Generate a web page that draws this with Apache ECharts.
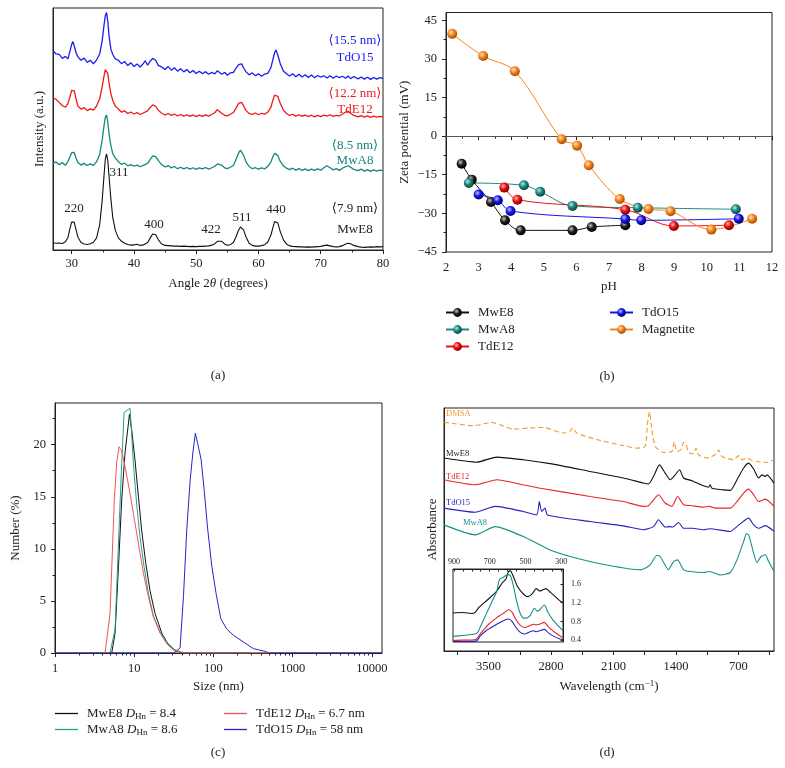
<!DOCTYPE html>
<html><head><meta charset="utf-8">
<script src="https://cdn.jsdelivr.net/npm/echarts@6.0.0/dist/echarts.min.js"></script>
<style>html,body{margin:0;padding:0;background:#fff}#c{width:785px;height:768px}</style>
</head><body><div id="c"></div><script>
const FONT = '"Liberation Serif","DejaVu Serif","Times New Roman",serif';
const INK = '#222';

// ---------- (a) XRD ----------
const xrdAngle = [27,27.5,28,28.5,29,29.4,29.7,30,30.2,30.4,30.7,31,31.5,32,32.5,33,33.5,34,34.5,34.9,35.2,35.4,35.6,35.8,36.0,36.3,36.6,37,37.5,38,38.5,39,39.5,40,40.5,41,41.5,41.8,42.2,42.6,43,43.2,43.5,43.9,44.4,45,45.5,46,46.5,47,47.5,48,48.5,49,49.5,50,50.5,51,51.5,52,52.5,53,53.4,53.7,54.1,54.6,55,55.5,56,56.4,56.8,57.1,57.3,57.6,58,58.5,59,59.5,60,60.5,61,61.5,62,62.3,62.6,62.8,63.1,63.5,64,64.5,65,65.5,66,66.5,67,67.5,68,68.5,69,69.5,70,70.5,71,71.5,72,72.5,73,73.5,74,74.4,74.8,75.3,76,76.5,77,77.5,78,78.5,79,79.5,80];
const xrdMwE8 = [3.0,2.8,2.9,2.7,3.4,5.2,8.6,11.6,12.4,11.5,8.4,5.3,3.1,2.5,2.3,2.6,3.2,5.0,10.5,20.5,31.0,37.5,39.7,37.0,30.5,21.0,13.5,8.2,5.0,3.6,2.8,2.3,2.0,2.1,2.4,1.9,2.1,2.3,3.1,4.9,6.6,6.9,6.3,4.3,2.6,1.9,1.8,1.7,1.6,1.6,1.5,1.6,1.5,1.4,1.5,1.4,1.5,1.5,1.6,1.7,2.0,2.6,3.6,4.1,3.6,2.4,2.0,2.2,3.2,5.5,8.2,9.5,9.6,8.3,5.4,2.8,1.9,1.6,1.6,1.8,2.2,3.3,6.2,9.0,11.8,12.4,11.2,7.6,4.2,2.5,1.7,1.5,1.4,1.3,1.3,1.2,1.3,1.2,1.3,1.4,1.5,1.8,2.0,1.7,1.4,1.3,1.4,1.8,2.5,2.8,2.6,1.9,1.4,1.2,1.1,1.2,1.3,1.2,1.4,1.3,1.4];
const xrdMwA8 = [35.8,36.4,35.2,36.1,35.0,36.6,38.4,40.2,41.0,40.3,38.0,36.2,35.1,35.8,34.9,35.6,35.0,36.5,39.5,45.5,51.5,54.8,55.8,53.0,48.0,43.0,39.8,38.0,36.5,35.4,35.9,34.8,35.3,34.6,35.1,34.4,35.0,34.6,35.8,37.3,38.9,39.3,38.6,37.0,35.4,34.3,34.9,33.9,34.5,33.6,34.2,33.5,34.1,33.4,34.0,33.3,33.9,33.5,34.1,33.4,34.0,34.6,35.6,35.8,35.0,33.9,33.6,34.2,35.0,37.5,40.0,41.3,41.0,39.2,36.4,34.5,33.6,34.0,33.4,33.9,33.5,34.6,36.4,38.5,40.0,40.2,39.0,36.6,34.8,33.8,33.2,33.8,33.0,33.6,32.9,33.5,32.8,33.4,32.9,33.5,33.0,34.0,34.8,34.0,33.1,33.6,32.9,33.8,34.4,34.8,34.2,33.3,32.8,33.4,32.6,33.2,32.5,33.1,32.6,33.0,32.8];
const xrdTdE12 = [63.0,62.2,61.0,59.6,59.0,60.5,63.2,66.0,66.8,65.8,62.5,59.5,58.2,58.8,57.6,58.3,57.8,59.5,62.5,67.5,72.0,74.5,75.1,73.0,69.0,64.5,61.8,59.5,58.2,57.0,57.5,56.4,57.0,56.2,56.8,56.0,56.6,56.2,57.5,58.8,60.0,60.2,59.4,57.8,56.6,55.8,56.4,55.6,56.2,55.4,56.0,55.3,55.9,55.2,55.8,55.1,55.7,55.2,55.8,55.3,56.0,56.8,58.0,57.6,56.5,55.6,55.4,56.1,56.9,58.6,60.6,61.3,61.0,59.6,57.6,56.4,56.0,56.6,55.9,56.5,56.1,57.0,59.0,61.8,64.0,64.7,63.5,60.6,57.8,56.4,55.6,56.1,55.3,55.9,55.2,55.8,55.1,55.7,55.0,55.6,55.1,55.7,55.3,55.9,55.2,55.6,55.4,56.2,57.0,57.3,56.5,55.6,55.0,55.5,54.9,55.4,54.8,55.3,54.9,55.2,55.0];
const xrdTdO15 = [82.4,81.0,80.8,79.2,80.0,79.0,82.0,85.0,86.1,84.5,81.5,79.8,78.4,79.3,77.5,78.4,76.9,78.6,81.0,86.5,93.0,96.8,98.1,94.5,88.5,83.0,80.8,79.0,78.4,77.0,77.9,76.2,77.4,75.8,76.9,75.6,77.0,78.2,76.4,78.0,79.2,79.6,78.4,76.3,75.7,74.6,75.8,74.3,75.3,73.9,74.9,73.6,74.6,73.2,74.2,72.9,73.9,72.8,73.7,72.6,73.4,72.8,74.1,73.9,72.6,73.4,72.2,73.2,73.4,75.2,76.6,77.3,76.9,75.3,73.6,72.4,73.2,72.0,72.8,71.8,72.7,73.0,75.4,78.6,81.6,82.6,80.6,77.0,74.0,72.8,71.9,72.8,71.6,72.6,71.5,72.4,71.3,72.3,71.2,72.1,71.4,72.0,71.1,72.0,71.0,71.9,71.2,71.8,71.0,71.9,70.8,71.7,70.7,71.5,70.6,71.4,70.5,71.3,70.6,71.2,70.9];
const xrdTickLabels = [30,40,50,60,70,80];
const xrdMinorTicks = [35,45,55,65,75];

// ---------- (b) Zeta potential ----------
const pHMwE8 = [2.48,2.79,3.38,3.81,4.29,5.88,6.47,7.5];
const zetaMwE8 = [-10.7,-16.9,-25.6,-32.7,-36.6,-36.6,-35.3,-34.6];
const pHMwA8 = [2.7,4.39,4.89,5.88,7.88,10.89];
const zetaMwA8 = [-18.2,-19.1,-21.6,-27.1,-27.8,-28.4];
const pHTdE12 = [3.79,4.19,7.5,8.99,10.68];
const zetaTdE12 = [-20.0,-24.7,-28.6,-34.9,-34.6];
const pHTdO15 = [3.0,3.59,3.98,7.5,7.99,10.98];
const zetaTdO15 = [-22.7,-24.9,-29.1,-32.2,-32.7,-32.1];
const pHMag = [2.19,3.14,4.11,5.55,6.02,6.38,7.33,8.21,8.89,10.14,11.39];
const zetaMag = [39.7,31.1,25.2,-1.2,-3.7,-11.3,-24.4,-28.3,-29.2,-36.3,-32.1];
const pHTicks = [2,3,4,5,6,7,8,9,10,11,12];
const pHMinor = [2.5,3.5,4.5,5.5,6.5,7.5,8.5,9.5,10.5,11.5];
const zetaTicks = [-45,-30,-15,0,15,30,45];
const zetaMinor = [-37.5,-22.5,-7.5,7.5,22.5,37.5];

// ---------- (c) DLS ----------
const dlsSizeMwE8 = [5.2,5.73,6.33,6.95,7.65,8.7,9.3,10.2,11.3,12.4,14.0,15.8,18.3,22.3,27.0,32.7,39.9,46,300];
const dlsNumMwE8  = [0,1.9,8.3,14.7,19.2,22.9,21.4,18.6,15.0,11.8,8.6,6.0,3.8,1.9,0.8,0.26,0.03,0,0];
const dlsSizeMwA8 = [4.95,5.73,6.5,6.95,7.45,8.86,9.76,10.7,11.8,13.3,15.1,17.4,21.2,25.7,31.1,37.9,46,300];
const dlsNumMwA8  = [0,2.3,12.8,18.2,23.1,23.5,18.2,14.4,11.2,8.3,5.7,3.6,2.0,1.06,0.4,0.1,0,0];
const dlsSizeTdE12 = [4.28,4.95,5.61,6.0,6.43,6.95,7.65,8.86,9.76,11.3,13.1,15.1,17.4,21.2,25.7,31.1,39.9,46,520];
const dlsNumTdE12  = [0,3.8,14.7,18.2,19.8,19.4,17.9,15.3,13.4,10.5,7.6,5.4,3.5,1.9,0.9,0.3,0.06,0,0];
const dlsSizeTdO15 = [1,31.1,34.4,37.9,41.8,46,50.8,54.9,59.1,64.5,69.8,76.2,84,95.4,108,123.8,147,179,239,318,426,518,13400];
const dlsNumTdO15  = [0,0,0.2,0.5,5.4,11.8,16.6,19.2,21.1,19.8,18.6,15.7,12.1,8.3,5.7,3.3,2.3,1.7,1.06,0.42,0.2,0,0];
const dlsDhn = {MwE8:'8.4', MwA8:'8.6', TdE12:'6.7 nm', TdO15:'58 nm'};
const sizeTicks = [1,10,100,1000,10000];
const sizeMinor = [2,3,4,5,6,7,8,9,20,30,40,50,60,70,80,90,200,300,400,500,600,700,800,900,2000,3000,4000,5000,6000,7000,8000,9000];
const numTicks = [0,5,10,15,20];
const numMinor = [2.5,7.5,12.5,17.5,22.5];

// ---------- (d) FTIR ----------
const ftirDMSA = [[4000,94.2],[3990,94.1],[3672,92.7],[3466,94.1],[3373,93.1],[3223,91.3],[3036,91.8],[2886,92.0],[2662,89.7],[2587,90.4],[2557,91.8],[2512,89.7],[2287,87.0],[1988,84.5],[1838,83.5],[1745,84.2],[1718,93.8],[1696,98.4],[1670,91.1],[1632,84.2],[1539,81.7],[1445,82.1],[1419,86.1],[1389,82.1],[1344,82.8],[1314,85.9],[1284,84.9],[1258,81.7],[1202,81.2],[1176,83.5],[1146,80.8],[1052,79.4],[958,80.8],[921,82.8],[884,80.1],[753,78.7],[697,80.4],[659,78.7],[603,79.4],[566,78.7],[491,78.0],[379,77.6],[341,78.4],[300,78.3]];
const ftirMwE8 = [[4000,79.4],[3635,77.7],[3410,79.8],[3111,78.7],[2811,77.1],[2362,73.9],[1988,71.2],[1763,69.1],[1707,68.7],[1651,71.8],[1584,76.6],[1520,73.2],[1464,70.5],[1408,72.5],[1359,74.6],[1314,71.2],[1220,70.1],[1090,68.0],[1033,67.4],[1015,68.4],[996,67.0],[865,66.3],[790,66.1],[715,70.5],[640,75.3],[584,77.3],[528,74.9],[472,71.2],[434,72.5],[397,71.8],[379,72.5],[300,69.1]];
const ftirTdE12 = [[4000,70.5],[3650,68.4],[3410,70.5],[3111,68.4],[2920,67.0],[2362,63.6],[1988,61.5],[1763,59.5],[1707,59.8],[1651,62.2],[1595,64.3],[1520,60.9],[1445,59.5],[1381,63.6],[1314,60.2],[1220,59.8],[1090,59.2],[1022,59.5],[958,58.8],[790,58.8],[715,61.5],[640,65.0],[584,66.6],[528,64.3],[472,61.5],[397,62.5],[300,59.5]];
const ftirTdO15 = [[4000,58.8],[3650,57.1],[3425,59.5],[3111,57.4],[2961,56.0],[2931,61.5],[2905,57.4],[2867,58.8],[2841,56.0],[2362,53.3],[1988,51.5],[1763,49.9],[1651,51.2],[1595,54.0],[1520,51.0],[1464,51.2],[1434,51.0],[1370,52.9],[1314,50.5],[1220,50.5],[1090,49.9],[1022,50.3],[790,49.2],[715,51.2],[584,54.7],[528,51.9],[472,50.5],[397,51.6],[300,49.2]];
const ftirMwA8 = [[4000,51.9],[3650,47.8],[3425,51.2],[3111,47.1],[2811,41.6],[2512,38.2],[2175,35.4],[1801,33.4],[1745,34.1],[1688,35.4],[1614,39.3],[1576,38.9],[1483,33.4],[1427,36.8],[1381,37.5],[1314,33.4],[1239,32.7],[1090,32.3],[1022,32.7],[902,31.3],[790,32.3],[715,37.5],[640,45.1],[610,48.2],[584,47.8],[528,40.2],[491,36.4],[446,38.9],[397,39.6],[360,36.8],[300,32.7]];
const wnTicks = [350,700,1050,1400,1750,2100,2450,2800,3150,3500,3850];
const wnLabels = [700,1400,2100,2800,3500];
// inset
const insetMwE8 = [[905,0.98],[850,0.99],[800,0.97],[780,1.0],[760,1.1],[730,1.2],[700,1.3],[660,1.45],[630,1.62],[610,1.7],[595,1.86],[585,1.88],[570,1.78],[545,1.55],[520,1.42],[500,1.35],[485,1.33],[460,1.4],[440,1.5],[420,1.45],[400,1.48],[385,1.5],[360,1.42],[330,1.32],[310,1.25],[290,1.2]];
const insetMwA8 = [[905,0.48],[850,0.5],[800,0.52],[770,0.55],[750,0.7],[720,0.95],[690,1.2],[660,1.45],[645,1.7],[625,1.74],[600,1.8],[585,1.78],[570,1.6],[550,1.25],[530,0.98],[510,0.87],[495,0.87],[470,0.95],[450,1.08],[435,1.02],[420,1.05],[395,1.15],[375,1.0],[350,0.85],[320,0.72],[290,0.6]];
const insetTdE12 = [[905,0.39],[850,0.4],[800,0.4],[775,0.42],[750,0.55],[720,0.68],[700,0.76],[670,0.85],[645,0.92],[620,0.98],[595,1.05],[575,1.0],[555,0.85],[530,0.72],[505,0.67],[480,0.7],[455,0.74],[440,0.73],[420,0.74],[395,0.78],[370,0.68],[340,0.58],[310,0.5],[290,0.45]];
const insetTdO15 = [[905,0.37],[850,0.37],[800,0.37],[775,0.38],[750,0.5],[720,0.6],[700,0.65],[670,0.72],[645,0.77],[620,0.82],[595,0.85],[575,0.8],[555,0.68],[530,0.57],[505,0.53],[480,0.57],[455,0.6],[440,0.58],[420,0.6],[395,0.63],[370,0.55],[340,0.48],[310,0.43],[290,0.41]];
const insetWnLabels = [300,500,700,900];
const insetWnTicks = [300,350,400,450,500,550,600,650,700,750,800,850,900];
const insetAbsLabels = [0.4,0.8,1.2,1.6];

// ---------- helpers ----------
const zip = (xs, ys) => xs.map((x, i) => [x, ys[i]]);
const fmtNum = v => { const r = Math.round(v * 100) / 100; return r < 0 ? '\u2212' + Math.abs(r) : String(r); };
const lbl = (vals, extra) => Object.assign({customValues: vals, fontSize: 12.5, fontFamily: FONT, color: INK, formatter: fmtNum}, extra || {});
const tick = (vals, len, inside) => ({show: true, customValues: vals, length: len, inside: !!inside, lineStyle: {color: INK, width: 1}});
const line = {show: true, lineStyle: {color: INK, width: 1}};
const nameStyle = {fontSize: 13, fontFamily: FONT, color: INK};
const richName = {n: {fontSize: 13, fontFamily: FONT, color: INK}, i: {fontSize: 13, fontFamily: FONT, color: INK, fontStyle: 'italic'}, sup: {fontSize: 9, fontFamily: FONT, color: INK, padding: [0, 0, 7, 0]}};
const minorAxis = (grid, pos, type, min, max, vals, extra) => Object.assign({gridIndex: grid, type: type, position: pos, min: min, max: max, axisLine: {show: false}, splitLine: {show: false}, axisLabel: {show: false}, axisTick: tick(vals, 2.5)}, extra || {});
function ball(c, hi, lo) { return {type: 'radial', x: 0.38, y: 0.35, r: 0.62, colorStops: [{offset: 0, color: hi}, {offset: 0.5, color: c}, {offset: 1, color: lo}]}; }

const xrdColors = {MwE8: '#111111', MwA8: '#14877f', TdE12: '#f01818', TdO15: '#1c1cf0'};
const zetaStyle = {
  MwE8: ['#111111', ball('#222', '#c8c8c8', '#000')],
  MwA8: ['#1e8a82', ball('#1e8a82', '#b8ebe6', '#0b4b46')],
  TdE12: ['#f01010', ball('#f01010', '#ffc0c0', '#8a0000')],
  TdO15: ['#1414e6', ball('#1818ee', '#c0c0ff', '#00007a')],
  Magnetite: ['#f5861f', ball('#f5861f', '#ffe6c0', '#b05000')]
};
const dlsColors = {MwE8: '#111111', MwA8: '#2a9d8f', TdE12: '#f05555', TdO15: '#2626c8'};
const ftirColors = {DMSA: '#f39a2e', MwE8: '#111111', TdE12: '#e8262a', TdO15: '#2424c0', MwA8: '#179088'};

const series = [];
// (a)
[['TdO15', xrdTdO15, 1.3], ['TdE12', xrdTdE12, 1.3], ['MwA8', xrdMwA8, 1.3], ['MwE8', xrdMwE8, 1.1]].forEach(([k, v, w]) => series.push({
  name: 'XRD ' + k, type: 'line', xAxisIndex: 0, yAxisIndex: 0, data: zip(xrdAngle, v), symbol: 'none',
  lineStyle: {color: xrdColors[k], width: w}, itemStyle: {color: xrdColors[k]}
}));
// (b)
[['MwE8', pHMwE8, zetaMwE8], ['MwA8', pHMwA8, zetaMwA8], ['TdE12', pHTdE12, zetaTdE12], ['TdO15', pHTdO15, zetaTdO15], ['Magnetite', pHMag, zetaMag]].forEach(([k, xs, ys], idx) => {
  const s = {
    name: k, type: 'line', xAxisIndex: 2, yAxisIndex: 1, data: zip(xs, ys), smooth: 0.35,
    symbol: 'circle', symbolSize: 10, showSymbol: true,
    lineStyle: {color: zetaStyle[k][0], width: 1}, itemStyle: {color: zetaStyle[k][1]}, z: 3
  };
  if (idx === 0) s.markLine = {silent: true, symbol: 'none', label: {show: false}, lineStyle: {color: '#555', type: 'solid', width: 1}, data: [{yAxis: 0}], z: 1};
  series.push(s);
});
// (c)
[['MwE8', dlsSizeMwE8, dlsNumMwE8], ['MwA8', dlsSizeMwA8, dlsNumMwA8], ['TdO15', dlsSizeTdO15, dlsNumTdO15], ['TdE12', dlsSizeTdE12, dlsNumTdE12]].forEach(([k, xs, ys]) => series.push({
  name: k + ' DHn', type: 'line', xAxisIndex: 4, yAxisIndex: 3, data: zip(xs, ys), symbol: 'none',
  lineStyle: {color: dlsColors[k], width: 1}, itemStyle: {color: dlsColors[k]}
}));
// (d)
[['DMSA', ftirDMSA], ['MwE8', ftirMwE8], ['TdE12', ftirTdE12], ['TdO15', ftirTdO15], ['MwA8', ftirMwA8]].forEach(([k, d]) => series.push({
  name: 'FTIR ' + k, type: 'line', xAxisIndex: 6, yAxisIndex: 5, data: d, symbol: 'none', smooth: 0.2,
  lineStyle: {color: ftirColors[k], width: 1.1, type: k === 'DMSA' ? [5, 3] : 'solid'}
}));
[['MwE8', insetMwE8], ['MwA8', insetMwA8], ['TdE12', insetTdE12], ['TdO15', insetTdO15]].forEach(([k, d]) => series.push({
  name: 'Inset ' + k, type: 'line', xAxisIndex: 7, yAxisIndex: 6, data: d, symbol: 'none', smooth: 0.3,
  lineStyle: {color: ftirColors[k], width: 1.1}
}));

const txt = (x, y, t, color, size, align, style) => ({type: 'text', x: x, y: y, silent: true,
  style: {text: t, fill: color || INK, font: (style || '') + ' ' + (size || 13) + 'px ' + FONT, align: align || 'center', verticalAlign: 'middle'}});

const dlsRich = {
  n: {fontSize: 13, fontFamily: FONT, color: INK},
  i: {fontSize: 13, fontFamily: FONT, color: INK, fontStyle: 'italic'},
  s: {fontSize: 9, fontFamily: FONT, color: INK, padding: [6, 0, 0, 0]}
};
const dlsFormatter = name => { const s = name.replace(' DHn', ''); return '{n|' + s + ' }{i|D}{s|Hn}{n| = ' + dlsDhn[s] + '}'; };

const option = {
  animation: false,
  backgroundColor: '#fff',
  grid: [
    {left: 53, top: 8, width: 330, height: 242},
    {left: 446, top: 12.5, width: 326, height: 239.5},
    {left: 55, top: 403, width: 327, height: 250},
    {left: 444, top: 408, width: 330, height: 243},
    {left: 453, top: 569, width: 110, height: 73}
  ].map(g => Object.assign({show: true, borderColor: INK, borderWidth: 1, backgroundColor: 'transparent', containLabel: false}, g)),
  xAxis: [
    {gridIndex: 0, type: 'value', position: 'bottom', min: 27, max: 80, axisLine: line, splitLine: {show: false},
      axisTick: tick(xrdTickLabels, 4), axisLabel: lbl(xrdTickLabels, {margin: 7}),
      name: '{n|Angle 2}{i|\u03b8}{n| (degrees)}', nameLocation: 'middle', nameGap: 27, nameTextStyle: {rich: richName}},
    minorAxis(0, 'bottom', 'value', 27, 80, xrdMinorTicks),
    {gridIndex: 1, type: 'value', position: 'bottom', min: 2, max: 12, interval: 1, axisLine: line, splitLine: {show: false},
      axisTick: tick(pHTicks, 4), axisLabel: lbl(pHTicks, {margin: 9}),
      name: 'pH', nameLocation: 'middle', nameGap: 28, nameTextStyle: nameStyle},
    minorAxis(1, 'bottom', 'value', 2, 12, pHMinor),
    {gridIndex: 2, type: 'log', logBase: 10, position: 'bottom', min: 1, max: 13400, axisLine: line, splitLine: {show: false},
      axisTick: tick(sizeTicks, 4), axisLabel: lbl(sizeTicks, {margin: 9, formatter: v => String(Math.round(v))}),
      name: 'Size (nm)', nameLocation: 'middle', nameGap: 27, nameTextStyle: nameStyle},
    minorAxis(2, 'bottom', 'log', 1, 13400, sizeMinor, {logBase: 10}),
    {gridIndex: 3, type: 'value', position: 'bottom', inverse: true, min: 300, max: 4000, axisLine: line, splitLine: {show: false},
      axisTick: tick(wnTicks, 4), axisLabel: lbl(wnLabels, {margin: 9, formatter: v => String(Math.round(v))}),
      name: '{n|Wavelength (cm}{sup|\u22121}{n|)}', nameLocation: 'middle', nameGap: 28, nameTextStyle: {rich: richName}},
    {gridIndex: 4, type: 'value', position: 'top', inverse: true, min: 290, max: 905, axisLine: line, splitLine: {show: false},
      axisTick: tick(insetWnTicks, 2.5, true), axisLabel: lbl(insetWnLabels, {margin: 3, fontSize: 8, formatter: v => String(Math.round(v))})}
  ],
  yAxis: [
    {gridIndex: 0, type: 'value', min: 0, max: 100, axisLine: line, splitLine: {show: false}, axisTick: {show: false}, axisLabel: {show: false},
      name: 'Intensity (a.u.)', nameLocation: 'middle', nameGap: 7, nameTextStyle: nameStyle},
    {gridIndex: 1, type: 'value', position: 'left', min: -45, max: 48, axisLine: line, splitLine: {show: false},
      axisTick: tick(zetaTicks, 4), axisLabel: lbl(zetaTicks, {margin: 9}),
      name: 'Zeta potential (mV)', nameLocation: 'middle', nameGap: 35, nameTextStyle: nameStyle},
    minorAxis(1, 'left', 'value', -45, 48, zetaMinor),
    {gridIndex: 2, type: 'value', position: 'left', min: 0, max: 24, axisLine: line, splitLine: {show: false},
      axisTick: tick(numTicks, 4), axisLabel: lbl(numTicks, {margin: 9}),
      name: 'Number (%)', nameLocation: 'middle', nameGap: 33, nameTextStyle: nameStyle},
    minorAxis(2, 'left', 'value', 0, 24, numMinor),
    {gridIndex: 3, type: 'value', min: 0, max: 100, axisLine: line, splitLine: {show: false}, axisTick: {show: false}, axisLabel: {show: false},
      name: 'Absorbance', nameLocation: 'middle', nameGap: 5, nameTextStyle: nameStyle},
    {gridIndex: 4, type: 'value', position: 'right', min: 0.36, max: 1.92, axisLine: line, splitLine: {show: false},
      axisTick: tick(insetAbsLabels, 2.5, true), axisLabel: lbl(insetAbsLabels, {margin: 8, fontSize: 8})}
  ],
  legend: [
    {data: ['MwE8', 'MwA8', 'TdE12'], left: 445, top: 306, padding: 0, orient: 'vertical', itemGap: 4, itemWidth: 23, itemHeight: 11,
      textStyle: {fontSize: 13, fontFamily: FONT, color: INK, padding: [0, 0, 0, 4]}, selectedMode: false},
    {data: ['TdO15', 'Magnetite'], left: 609, top: 306, padding: 0, orient: 'vertical', itemGap: 4, itemWidth: 23, itemHeight: 11,
      textStyle: {fontSize: 13, fontFamily: FONT, color: INK, padding: [0, 0, 0, 4]}, selectedMode: false},
    {data: ['MwE8 DHn', 'MwA8 DHn'], left: 55, top: 707, padding: 0, orient: 'vertical', itemGap: 2, icon: 'rect', itemWidth: 23, itemHeight: 1.3,
      selectedMode: false, formatter: dlsFormatter, textStyle: {padding: [0, 0, 0, 4], rich: dlsRich}},
    {data: ['TdE12 DHn', 'TdO15 DHn'], left: 224, top: 707, padding: 0, orient: 'vertical', itemGap: 2, icon: 'rect', itemWidth: 23, itemHeight: 1.3,
      selectedMode: false, formatter: dlsFormatter, textStyle: {padding: [0, 0, 0, 4], rich: dlsRich}}
  ],
  series: series,
  graphic: [
    // (a) annotations
    txt(355, 41, '\u27e815.5 nm\u27e9', xrdColors.TdO15), txt(355, 58, 'TdO15', xrdColors.TdO15),
    txt(355, 94, '\u27e812.2 nm\u27e9', xrdColors.TdE12), txt(355, 110, 'TdE12', xrdColors.TdE12),
    txt(355, 146, '\u27e88.5 nm\u27e9', xrdColors.MwA8), txt(355, 161, 'MwA8', xrdColors.MwA8),
    txt(355, 209, '\u27e87.9 nm\u27e9', INK), txt(355, 230, 'MwE8', INK),
    txt(74, 209, '220'), txt(119, 173, '311'), txt(154, 225, '400'), txt(211, 230, '422'), txt(242, 218, '511'), txt(276, 210, '440'),
    // (d) labels
    txt(446, 414, 'DMSA', ftirColors.DMSA, 8.5, 'left'), txt(446, 454, 'MwE8', INK, 8.5, 'left'),
    txt(446, 477, 'TdE12', ftirColors.TdE12, 8.5, 'left'), txt(446, 503, 'TdO15', ftirColors.TdO15, 8.5, 'left'),
    txt(463, 523, 'MwA8', ftirColors.MwA8, 8.5, 'left'),
    // panel labels
    txt(218, 376, '(a)'), txt(607, 377, '(b)'), txt(218, 753, '(c)'), txt(607, 753, '(d)')
  ]
};
const chart = echarts.init(document.getElementById('c'), null, {renderer: 'canvas', width: 785, height: 768});
chart.setOption(option);
</script></body></html>
